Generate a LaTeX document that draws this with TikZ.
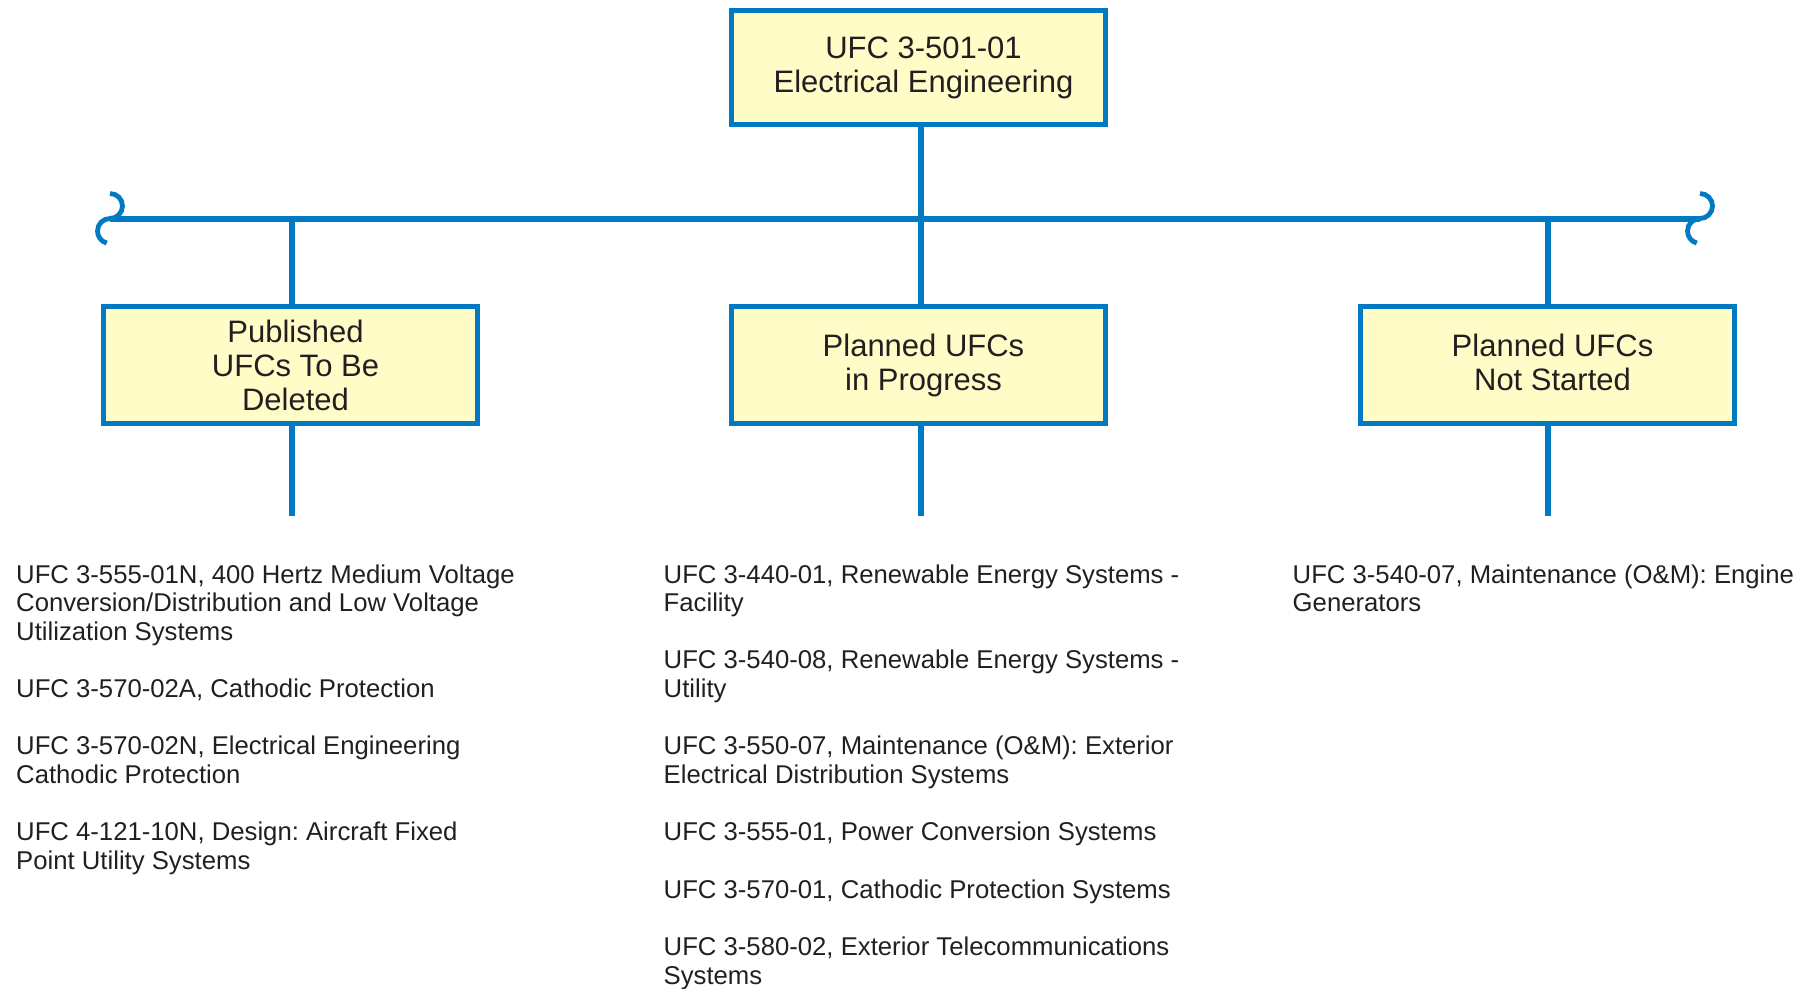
\documentclass[tikz,border=0pt]{standalone}
\usepackage{fontspec}
\setmainfont{Liberation Sans}
\frenchspacing
\definecolor{ufcblue}{RGB}{0,122,194}
\definecolor{ufcfill}{RGB}{255,252,200}
\definecolor{ufctext}{RGB}{35,31,32}
\begin{document}
\begin{tikzpicture}[x=1pt,y=-1pt,
  box/.style={draw=ufcblue, line width=5pt, fill=ufcfill, minimum width=374pt, minimum height=117pt, inner sep=0pt},
  boxtext/.style={align=center, text=ufctext, inner sep=0pt, font=\fontsize{31}{34}\selectfont},
  link/.style={draw=ufcblue, line width=6pt},
  bus/.style={draw=ufcblue, line width=5.7pt},
  brk/.style={draw=ufcblue, line width=4.8pt},
  item/.style={anchor=base west, inner sep=0pt, text=ufctext, font=\fontsize{25.7}{28.65}\selectfont\frenchspacing}
]
\useasboundingbox (0,0) rectangle (1809,988);

% coordinates
\coordinate (busL) at (110,219);
\coordinate (busR) at (1700,219);
\coordinate (jL) at (292,219);
\coordinate (jR) at (1548,219);
\coordinate (sL) at (292,516);
\coordinate (sM) at (921,516);
\coordinate (sR) at (1548,516);

% top box
\node[box, minimum height=114pt] (top) at (918.5,67.5) {};
\node[boxtext] (topt) at ([xshift=5pt]top.center) {UFC 3-501-01\\Electrical Engineering};

% bus and breaks
\draw[bus] (busL) -- (busR);
\draw[brk] (110,193.5) arc[start angle=-90, end angle=90, radius=12.5]
                       arc[start angle=-90, end angle=-255, radius=12.5];
\draw[brk] (1700,193.5) arc[start angle=-90, end angle=90, radius=12.5]
                        arc[start angle=-90, end angle=-255, radius=12.5];

% second-row boxes
\node[box] (left) at (290.5,365) {};
\node[box] (mid) at (918.5,365) {};
\node[box] (right) at (1547.5,365) {};
\node[boxtext] (leftt) at ([xshift=5pt]left.center) {Published\\UFCs To Be\\Deleted};
\node[boxtext] (midt) at ([xshift=5pt]mid.center) {Planned UFCs\\in Progress};
\node[boxtext] (rightt) at ([xshift=5pt,yshift=2.5pt]right.center) {Planned UFCs\\Not Started};

% connectors
\draw[link] ([xshift=2.5pt]top.south) -- ([xshift=2.5pt]mid.north);
\draw[link] (jL) -- (jL |- left.north);
\draw[link] (jR) -- (jR |- right.north);
\draw[link] (sL |- left.south) -- (sL);
\draw[link] (sM |- mid.south) -- (sM);
\draw[link] (sR |- right.south) -- (sR);

% left column
\node[item] (a1) at (16,583) {\parbox[t]{700pt}{UFC 3-555-01N, 400 Hertz Medium Voltage\\Conversion/Distribution and Low Voltage\\Utilization Systems}};
\node[item] (a2) at (16,697.6) {\parbox[t]{700pt}{UFC 3-570-02A, Cathodic Protection}};
\node[item] (a3) at (16,754.9) {\parbox[t]{700pt}{UFC 3-570-02N, Electrical Engineering\\Cathodic Protection}};
\node[item] (a4) at (16,840.85) {\parbox[t]{700pt}{UFC 4-121-10N, Design: Aircraft Fixed\\Point Utility Systems}};

% middle column
\node[item] (b1) at (663.5,583) {\parbox[t]{700pt}{UFC 3-440-01, Renewable Energy Systems -\\Facility}};
\node[item] (b2) at (663.5,668.95) {\parbox[t]{700pt}{UFC 3-540-08, Renewable Energy Systems -\\Utility}};
\node[item] (b3) at (663.5,754.9) {\parbox[t]{700pt}{UFC 3-550-07, Maintenance (O\&M): Exterior\\Electrical Distribution Systems}};
\node[item] (b4) at (663.5,840.85) {\parbox[t]{700pt}{UFC 3-555-01, Power Conversion Systems}};
\node[item] (b5) at (663.5,898.15) {\parbox[t]{700pt}{UFC 3-570-01, Cathodic Protection Systems}};
\node[item] (b6) at (663.5,955.45) {\parbox[t]{700pt}{UFC 3-580-02, Exterior Telecommunications\\Systems}};

% right column
\node[item] (c1) at (1292.5,583) {\parbox[t]{700pt}{UFC 3-540-07, Maintenance (O\&M): Engine\\Generators}};
\end{tikzpicture}
\end{document}
